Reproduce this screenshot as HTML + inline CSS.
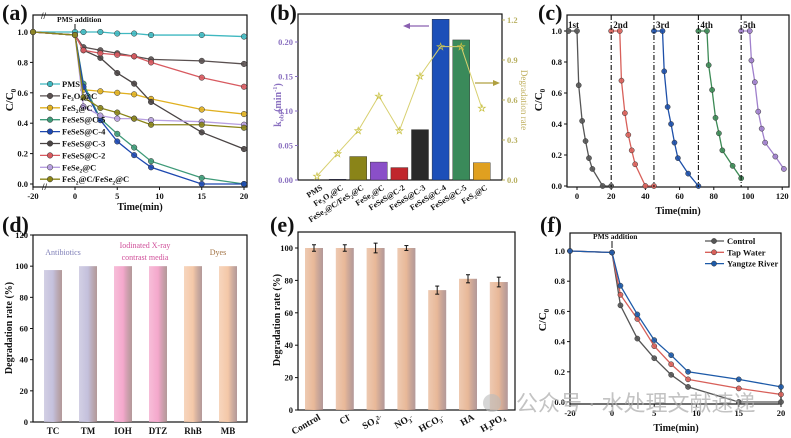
<!DOCTYPE html>
<html><head><meta charset="utf-8"><style>
html,body{margin:0;padding:0;background:#fff;width:791px;height:438px;overflow:hidden}
svg{display:block;font-family:"Liberation Serif",serif;font-weight:bold}
</style></head><body>
<svg id="fig" width="791" height="438" viewBox="0 0 791 438" xmlns="http://www.w3.org/2000/svg"></svg>
<script>
// ---------- data ----------
const aTimes=[-20,0,1,3,5,7,9,15,20];
const aNames=["PMS","Fe3O4@C","FeS2@C","FeSeS@C-5","FeSeS@C-4","FeSeS@C-3","FeSeS@C-2","FeSe2@C","FeS2@C/FeSe2@C"];
const aPMS=[1,1,1.0,1.0,0.99,0.99,0.98,0.98,0.97];
const aFe3O4=[1,0.98,0.9,0.88,0.86,0.84,0.82,0.81,0.79];
const aFeS2=[1,0.98,0.62,0.61,0.60,0.59,0.56,0.49,0.46];
const aC5=[1,0.98,0.66,0.43,0.33,0.24,0.15,0.04,0];
const aC4=[1,0.98,0.64,0.42,0.28,0.19,0.11,0,0];
const aC3=[1,0.98,0.88,0.83,0.73,0.66,0.54,0.34,0.23];
const aC2=[1,0.98,0.88,0.86,0.85,0.84,0.80,0.70,0.64];
const aFeSe2=[1,0.98,0.51,0.45,0.43,0.43,0.42,0.41,0.39];
const aMix=[1,0.98,0.57,0.50,0.47,0.43,0.39,0.39,0.37];
const aTicksY=[0,0.2,0.4,0.6,0.8,1.0];
const aTicksX=[-20,0,5,10,15,20];

const bCats=["PMS","Fe3O4@C","FeSe2@C/FeS2@C","FeSe2@C","FeSeS@C-2","FeSeS@C-3","FeSeS@C-4","FeSeS@C-5","FeS2@C"];
const bKobs=[0,0.001,0.034,0.026,0.018,0.073,0.233,0.203,0.025];
const bRate=[0.03,0.2,0.37,0.63,0.37,0.78,1.0,1.0,0.54];
const bTicksL=[0,0.05,0.10,0.15,0.20];
const bTicksR=[0,0.3,0.6,0.9,1.2];

const cCycleTimes=[[-5,0,1,3,5,7,9,15,20],[20,25,26,28,30,32,34,40,45],[45,50,51,53,55,57,59,65,71],[71,76,77,79,81,83,85,91,96],[96,101,102,104,106,108,110,116,121]];
const cCycle1=[1,1,0.65,0.42,0.29,0.18,0.11,0,0];
const cCycle2=[1,1,0.68,0.47,0.33,0.23,0.14,0,0];
const cCycle3=[1,1,0.74,0.51,0.40,0.28,0.18,0.08,0];
const cCycle4=[1,1,0.78,0.62,0.44,0.34,0.23,0.13,0.05];
const cCycle5=[1,1,0.81,0.67,0.48,0.37,0.28,0.19,0.11];
const cLabels=["1st","2nd","3rd","4th","5th"];
const cDivs=[20,45,71,96];
const cTicksX=[0,20,40,60,80,100,120];
const cTicksY=[0,0.2,0.4,0.6,0.8,1.0];

const dCats=["TC","TM","IOH","DTZ","RhB","MB"];
const dVals=[97.5,100,100,100,100,100];
const dTicks=[0,20,40,60,80,100,120];

const eCats=["Control","Cl-","SO4 2-","NO3-","HCO3-","HA","H2PO4-"];
const eVals=[100,100,100,100,74,81,79];
const eErr=[2,2,3,1.5,2.5,2.5,3];
const eTicks=[0,20,40,60,80,100];

const fTimes=[-20,0,1,3,5,7,9,15,20];
const fControl=[1,0.99,0.64,0.42,0.29,0.18,0.10,0,0];
const fTap=[1,0.99,0.71,0.55,0.37,0.25,0.15,0.09,0.05];
const fYangtze=[1,0.99,0.77,0.58,0.41,0.31,0.20,0.15,0.10];
const fNames=["Control","Tap Water","Yangtze River"];

// ---------- helpers ----------
const NS="http://www.w3.org/2000/svg";
const svg=document.getElementById('fig');
function mk(tag,at,par){const e=document.createElementNS(NS,tag);for(const k in at)e.setAttribute(k,at[k]);(par||svg).appendChild(e);return e;}
function tx(x,y,s,size,anchor,fill,extra){const t=mk('text',Object.assign({x:x,y:y,'font-size':size,'text-anchor':anchor||'middle',fill:fill||'#111'},extra||{}));t.textContent=s;return t;}
function subText(x,y,parts,size,anchor,fill,rot){
  const t=mk('text',{x:x,y:y,'font-size':size,'text-anchor':anchor||'start',fill:fill||'#111'});
  if(rot)t.setAttribute('transform','rotate('+rot+' '+x+' '+y+')');
  parts.forEach(p=>{const s=document.createElementNS(NS,'tspan');s.textContent=p[0];if(p[1]==='sub'){s.setAttribute('font-size',size*0.65);s.setAttribute('dy',size*0.25);}else if(p[1]==='sup'){s.setAttribute('font-size',size*0.65);s.setAttribute('dy',-size*0.4);}else if(p[1]==='back'){s.setAttribute('dy',p[2]);} t.appendChild(s);});
  return t;
}
function formula(name,size){
  const out=[];let prevSub=false;
  for(const ch of name.match(/[A-Za-z@\/\- ]+|\d+/g)){
    if(/^\d+$/.test(ch)&&out.length&&/[A-Za-z]$/.test(out[out.length-1][0])){out.push([ch,'sub']);prevSub=true;}
    else{ if(prevSub){out.push([ch,'back',-size*0.25]);prevSub=false;} else out.push([ch]); }
  }
  return out;
}
function frame(x0,y0,x1,y1,name){const r=mk('rect',{x:x0,y:y0,width:x1-x0,height:y1-y0,fill:'none',stroke:'#111','stroke-width':1.2});}
function panelLabel(x,y,s){const t=tx(x,y,s,22,'start','#111');}
function yTick(x,y,s,fill,side){mk('line',{x1:x,y1:y,x2:side==='r'?x+3:x-3,y2:y,stroke:fill||'#111'});const t=tx(side==='r'?x+5:x-5,y+3,s,8.5,side==='r'?'start':'end',fill||'#111');}
function xTick(x,y,s){mk('line',{x1:x,y1:y,x2:x,y2:y+3,stroke:'#111'});const t=tx(x,y+12,s,8.5,'middle');}
function cc0(x,y){const t=subText(x,y,[['C/C'],['0','sub']],11,'middle','#111',-90);}
function series(xs,ys,X,Y,col,name,r){
  const pts=xs.map((t,i)=>X(t)+','+Y(ys[i])).join(' ');
  const pl=mk('polyline',{points:pts,fill:'none',stroke:col,'stroke-width':1.3});
  
  xs.forEach((t,i)=>{const c=mk('circle',{cx:X(t),cy:Y(ys[i]),r:r||2.8,fill:col,stroke:'#333','stroke-width':0.5,'fill-opacity':0.9});
    });
}

// ---------- panel (a) ----------
panelLabel(2,20,'(a)');
const XA=t=>t<=0?75+t*2.1:75+t*8.45, YA=v=>184-v*152;
frame(33,15,247,187,'panel-a-plot-area');
aTicksY.forEach(v=>yTick(33,YA(v),v.toFixed(1)));
aTicksX.forEach(t=>xTick(XA(t),187,String(t)));
tx(140,210,'Time(min)',10);
cc0(13,100);
mk('text',{x:57,y:22,'font-size':7.5,'text-anchor':'start',fill:'#111'}).textContent='PMS addition';
mk('line',{x1:75,y1:24,x2:75,y2:31,stroke:'#111'});
mk('text',{x:41,y:19,'font-size':9,fill:'#111'}).textContent='//';
mk('text',{x:42,y:190,'font-size':9,fill:'#111'}).textContent='//';
const aSeries=[aPMS,aFe3O4,aFeS2,aC5,aC4,aC3,aC2,aFeSe2,aMix];
const aCols=['#3fb8c0','#5a5050','#e0b020','#3e9a78','#1d48b0','#4a4444','#d85a60','#b8a0e0','#8a8418'];
aSeries.forEach((s,i)=>series(aTimes,s,XA,YA,aCols[i],'series-a-'+i,2.8));
aNames.forEach((n,i)=>{const y=84+i*11.9;
  const l=mk('line',{x1:40,y1:y,x2:60,y2:y,stroke:aCols[i],'stroke-width':1.3});
  mk('circle',{cx:50,cy:y,r:2.8,fill:aCols[i],stroke:'#333','stroke-width':0.5});
  const tt=subText(62,y+3,formula(n,8.5),8.5,'start','#111');});

// ---------- panel (b) ----------
panelLabel(270,20,'(b)');
const XB=i=>317+i*20.6, YB=v=>180-v*(138/0.2), YR=v=>180-v*(160/1.2);
frame(298,14,502,180,'panel-b-plot-area');
bTicksL.forEach(v=>yTick(298,YB(v),v.toFixed(2),'#8a70c0'));
bTicksR.forEach(v=>yTick(502,YR(v),v.toFixed(1),'#b8b060','r'));
const bCols=['#888','#222255','#8a8418','#8a4fc8','#c0262c','#2a2a2a','#1c4fb8','#3a8a5a','#e0a020'];
bKobs.forEach((v,i)=>{const r=mk('rect',{x:XB(i)-8.5,y:YB(v),width:17,height:180-YB(v),fill:bCols[i],stroke:'#222','stroke-width':0.4});});
mk('polyline',{points:bRate.map((v,i)=>XB(i)+','+YR(v)).join(' '),fill:'none',stroke:'#d8d070','stroke-width':1});
bRate.forEach((v,i)=>{const s=tx(XB(i),YR(v)+3.5,'☆',10,'middle','#c8c040');});
bCats.forEach((c,i)=>{const tt=subText(XB(i)+6,189,formula(c,8),8,'end','#111',-32);});
mk('line',{x1:429,y1:26,x2:408,y2:26,stroke:'#8a60b0','stroke-width':1.2});
mk('polygon',{points:'403,26 410,23 410,29',fill:'#8a60b0'});
mk('line',{x1:475,y1:83,x2:495,y2:83,stroke:'#b0a040','stroke-width':1.2});
mk('polygon',{points:'500,83 493,80 493,86',fill:'#b0a040'});
subText(281,105,[['k'],['obs','sub'],['(min','back',-2.5],['-1','sup'],[')','back',4]],10,'middle','#8a70c0',-90);
tx(521,100,'Degradation rate',9,'middle','#c0b060',{transform:'rotate(90 521 100)','font-weight':'normal'});

// ---------- panel (c) ----------
panelLabel(538,20,'(c)');
const XC=t=>577+t*1.71, YC=v=>186-v*155;
frame(567,15,789,187,'panel-c-plot-area');
cTicksY.forEach(v=>yTick(567,YC(v),v.toFixed(1)));
cTicksX.forEach(v=>xTick(XC(v),187,String(v)));
tx(678,214,'Time(min)',10);
cc0(542,100);
const cCols=['#555555','#d8605a','#1d4fa8','#3c8a55','#a080cc'];
[cCycle1,cCycle2,cCycle3,cCycle4,cCycle5].forEach((s,i)=>series(cCycleTimes[i],s,XC,YC,cCols[i],'cycle-'+(i+1),2.6));
cDivs.forEach(d=>{const l=mk('line',{x1:XC(d),y1:15,x2:XC(d),y2:187,stroke:'#111','stroke-width':1.1,'stroke-dasharray':'5,2,1,2'});});
cLabels.forEach((s,i)=>{const x=i===0?568:XC(cDivs[i-1])+2;const tt=tx(x,28,s,9,'start');});

// ---------- panel (d) ----------
panelLabel(2,232,'(d)');
const XD=i=>53+i*35, YD=v=>422-v*(187/120);
frame(33,235,247,422,'panel-d-plot-area');
dTicks.forEach(v=>yTick(33,YD(v),String(v)));
const dCols=['#c4c0dc','#c4c0dc','#f4a8cc','#f4a8cc','#f4c8a8','#f4c8a8'];
const defs=mk('defs',{});
dCols.concat(['#e8b898']).forEach((c,i)=>{const g=mk('linearGradient',{id:'g'+i,x1:0,x2:1,y1:0,y2:0},defs);
  mk('stop',{offset:'0%','stop-color':c,'stop-opacity':0.75},g);mk('stop',{offset:'50%','stop-color':c},g);mk('stop',{offset:'100%','stop-color':'#a08080','stop-opacity':0.8},g);});
dVals.forEach((v,i)=>{const r=mk('rect',{x:XD(i)-9,y:YD(v),width:18,height:422-YD(v),fill:'url(#g'+i+')'});
  const l=tx(XD(i),434,dCats[i],9);});
tx(63,255,'Antibiotics',8,'middle','#8080b8',{'font-weight':'normal'});
tx(145,248,'Iodinated X-ray',8,'middle','#d0509a',{'font-weight':'normal'});
tx(145,260,'contrast media',8,'middle','#d0509a',{'font-weight':'normal'});
tx(218,255,'Dyes',8,'middle','#a07040',{'font-weight':'normal'});
tx(12,328,'Degradation rate (%)',10,'middle','#111',{transform:'rotate(-90 12 328)'});

// ---------- panel (e) ----------
panelLabel(270,232,'(e)');
const XE=i=>314+i*30.8, YE=v=>410-v*1.62;
frame(298,232,515,410,'panel-e-plot-area');
eTicks.forEach(v=>yTick(298,YE(v),String(v)));
eVals.forEach((v,i)=>{const r=mk('rect',{x:XE(i)-9,y:YE(v),width:18,height:410-YE(v),fill:'url(#g6)'});
  const y1=YE(v+eErr[i]),y2=YE(v-eErr[i]);
  mk('line',{x1:XE(i),y1:y1,x2:XE(i),y2:y2,stroke:'#111'});mk('line',{x1:XE(i)-2,y1:y1,x2:XE(i)+2,y2:y1,stroke:'#111'});mk('line',{x1:XE(i)-2,y1:y2,x2:XE(i)+2,y2:y2,stroke:'#111'});});
const eLab=[[['Control']],[['Cl'],['-','sup']],[['SO'],['4','sub'],['2-','sup']],[['NO'],['3','sub'],['-','sup']],[['HCO'],['3','sub'],['-','sup']],[['HA']],[['H'],['2','sub'],['PO','back',-2.5],['4','sub']]];
eLab.forEach((p,i)=>{const tt=subText(XE(i)+7,419,p,9.5,'end','#111',-30);});
tx(280,320,'Degradation rate (%)',10,'middle','#111',{transform:'rotate(-90 280 320)'});

// ---------- panel (f) ----------
panelLabel(540,232,'(f)');
const XF=t=>t<=0?612+t*2.1:612+t*8.45, YF=v=>402-v*151;
frame(570,233,781,404,'panel-f-plot-area');
[0,0.2,0.4,0.6,0.8,1.0].forEach(v=>yTick(570,YF(v),v.toFixed(1)));
[-20,0,5,10,15,20].forEach(v=>xTick(XF(v),404,String(v)));
tx(676,431,'Time(min)',10);
cc0(546,320);
mk('text',{x:593,y:239,'font-size':7.5,fill:'#111'}).textContent='PMS addition';
mk('line',{x1:612,y1:241,x2:612,y2:248,stroke:'#111'});
const fCols=['#555555','#d8605a','#1d5aa8'];
[fControl,fTap,fYangtze].forEach((s,i)=>series(fTimes,s,XF,YF,fCols[i],'series-f-'+i,2.6));
fNames.forEach((n,i)=>{const y=241+i*11.3;mk('line',{x1:705,y1:y,x2:724,y2:y,stroke:fCols[i],'stroke-width':1.3});mk('circle',{cx:714,cy:y,r:2.6,fill:fCols[i],stroke:'#333','stroke-width':0.5});
  const tt=tx(727,y+3,n,8.5,'start');});

// ---------- watermark ----------
const wm=mk('circle',{cx:492,cy:403,r:9,fill:'#bbb','fill-opacity':0.6});


const wt=tx(516,411,'公众号 · 水处理文献速递',22,'start','#aaa',{'font-family':'"Liberation Sans","Noto Sans CJK SC",sans-serif','font-weight':'normal','fill-opacity':0.7});


</script>
</body></html>
